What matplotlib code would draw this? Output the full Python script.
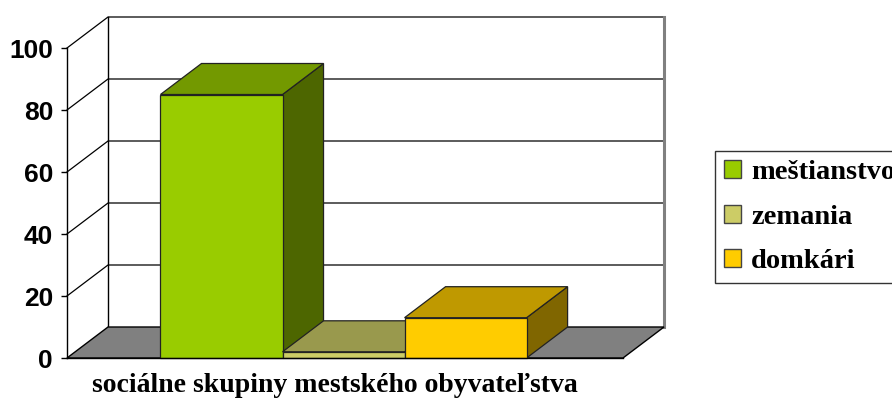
import matplotlib.pyplot as plt
from matplotlib.patches import Polygon, Patch

# Data
categories = ['meštianstvo', 'zemania', 'domkári']
values = [85, 2, 13]
y_ticks = [0, 20, 40, 60, 80, 100]
xlabel = 'sociálne skupiny mestského obyvateľstva'

front_colors = ['#99CC00', '#CCCC66', '#FFCC00']
top_colors = ['#739900', '#99994D', '#BF9900']
side_colors = ['#4D6600', '#666633', '#806600']

fig = plt.figure(figsize=(8.92, 4.01), dpi=100)
ax = fig.add_axes([67 / 892, 43 / 401, 556 / 892, 310 / 401])
x0, x1 = -1.266, 3.29
ymax = 100
ax.set_xlim(x0, x1)
ax.set_ylim(0, ymax)

# depth of the 3D box in data units
dx, dy = 0.336, 10


def poly(pts, fc, ec='#222222', lw=0.9, z=1):
    p = Polygon(pts, closed=True, facecolor=fc, edgecolor=ec, lw=lw,
                clip_on=False, zorder=z, joinstyle='miter')
    ax.add_patch(p)


# side wall and back wall
poly([(x0, 0), (x0 + dx, dy), (x0 + dx, ymax + dy), (x0, ymax)], 'white', ec='none')
poly([(x0 + dx, dy), (x1 + dx, dy), (x1 + dx, ymax + dy), (x0 + dx, ymax + dy)],
     'white', ec='none')
for v in y_ticks[1:]:
    ax.plot([x0, x0 + dx, x1 + dx], [v, v + dy, v + dy], color='black', lw=0.9,
            clip_on=False, zorder=1.5)
ax.plot([x0 + dx, x0 + dx], [dy, ymax + dy], color='black', lw=1, clip_on=False, zorder=1.5)
ax.plot([x1 + dx, x1 + dx], [dy, ymax + dy], color='#808080', lw=2.2, clip_on=False, zorder=1.5)

# floor
poly([(x0, 0), (x1, 0), (x1 + dx, dy), (x0 + dx, dy)], '#808080', ec='black', lw=1, z=2)

# bars, left to right so later ones sit in front
for i, v in enumerate(values):
    l, r = i - 0.5, i + 0.5
    poly([(r, 0), (r + dx, dy), (r + dx, v + dy), (r, v)], side_colors[i], z=3 + i)
    poly([(l, v), (r, v), (r + dx, v + dy), (l + dx, v + dy)], top_colors[i], z=3 + i)
    poly([(l, 0), (r, 0), (r, v), (l, v)], front_colors[i], z=3 + i)

# axes styling
for s in ['top', 'right']:
    ax.spines[s].set_visible(False)
ax.spines['left'].set_linewidth(1)
ax.spines['bottom'].set_linewidth(1)
ax.spines['bottom'].set_zorder(10)
ax.set_xticks([])
ax.set_yticks(y_ticks)
ax.set_yticklabels([str(t) for t in y_ticks], fontfamily='Liberation Sans',
                   fontweight='bold', fontsize=19)
ax.tick_params(axis='y', direction='out', length=4, width=1, pad=6)
ax.patch.set_visible(False)

fig.text(335 / 892, 1 - 386 / 401, xlabel, ha='center', va='center',
         fontfamily='Liberation Serif', fontweight='bold', fontsize=20)

handles = [Patch(facecolor=c, edgecolor='#444444', lw=1) for c in front_colors]
leg = fig.legend(handles, categories, loc='upper left',
                 bbox_to_anchor=(715 / 892, 1 - 151 / 401), borderaxespad=0,
                 frameon=True, fancybox=False, edgecolor='black',
                 prop={'family': 'Liberation Serif', 'weight': 'bold', 'size': 20.5},
                 handlelength=0.6, handleheight=0.6, handletextpad=0.35,
                 labelspacing=0.68, borderpad=0.32)
leg.get_frame().set_linewidth(1)

fig.savefig('out.png', dpi=100)
